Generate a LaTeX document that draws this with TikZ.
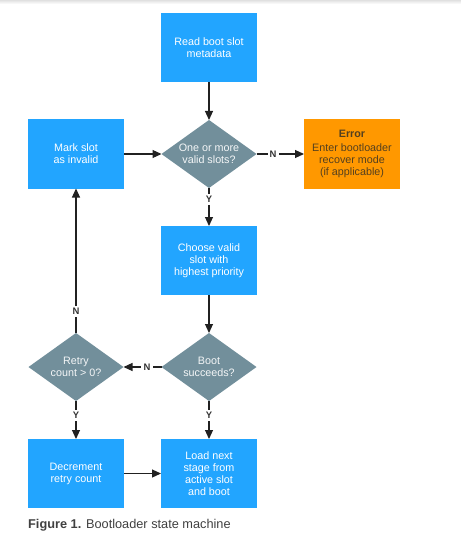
\documentclass[tikz,border=0pt]{standalone}
\usepackage{fontspec}
\setmainfont{Liberation Sans}
\usetikzlibrary{shapes.geometric,arrows.meta,positioning}
\definecolor{boxblue}{HTML}{22A5FF}
\definecolor{diagray}{HTML}{728F9B}
\definecolor{errorange}{HTML}{FF9800}
\definecolor{errtext}{HTML}{54401F}
\definecolor{linegray}{HTML}{212121}
\begin{document}
\begin{tikzpicture}[
  x=1bp, y=-1bp,
  block/.style={rectangle, fill=boxblue, text=white, align=center, minimum width=96bp, minimum height=69bp, inner sep=0pt, outer sep=0pt},
  decision/.style={diamond, fill=diagray, text=white!92!diagray, align=center, minimum width=95bp, minimum height=68bp, aspect=1.4, inner sep=0pt, outer sep=0pt},
  lab/.style={fill=white, text=black!80, font=\bfseries\fontsize{9.5}{10}\selectfont, inner sep=2.2bp},
  flow/.style={-{Triangle[length=9bp,width=8bp]}, draw=linegray, line width=1.1bp},
  node distance=106.5bp,
  font=\fontsize{10.8}{12}\selectfont
]
\useasboundingbox (0,0) rectangle (461,542);
\shade[top color=black!12, bottom color=white] (0,0) rectangle (461,4);

\node[block] (read) at (209,47.5) {Read boot slot\\metadata};
\node[decision, below of=read] (valid) {One or more\\valid slots?};
\node[block, left of=valid, node distance=133bp] (mark) {Mark slot\\as invalid};
\node[block, right of=valid, node distance=143bp, fill=errorange, text=errtext] (error) {\textbf{Error}\\[2.5bp]Enter bootloader\\recover mode\\(if applicable)};
\node[block, below of=valid] (choose) {Choose valid\\slot with\\highest priority};
\node[decision, below of=choose] (boot) {Boot\\succeeds?};
\node[decision, left of=boot, node distance=133bp] (retry) {Retry\\count > 0?};
\node[block, below of=boot] (load) {Load next\\stage from\\active slot\\and boot};
\node[block, below of=retry] (decr) {Decrement\\retry count};

\node[anchor=base west, text=black!75, font=\fontsize{12.8}{14}\selectfont, inner sep=0pt] (caption) at (28,528) {\textbf{Figure 1.} Bootloader state machine};

\draw[flow] (read) -- (valid);
\draw[flow] (mark) -- (valid);
\draw[flow] (valid) -- node[lab, pos=0.35] {N} (error);
\draw[flow] (valid) -- node[lab, pos=0.3] {Y} (choose);
\draw[flow] (choose) -- (boot);
\draw[flow] (boot) -- node[lab, pos=0.38] {N} (retry);
\draw[flow] (retry) -- node[lab, pos=0.15] {N} (mark);
\draw[flow] (retry) -- node[lab, pos=0.37] {Y} (decr);
\draw[flow] (boot) -- node[lab, pos=0.37] {Y} (load);
\draw[flow] (decr) -- (load);
\end{tikzpicture}
\end{document}
